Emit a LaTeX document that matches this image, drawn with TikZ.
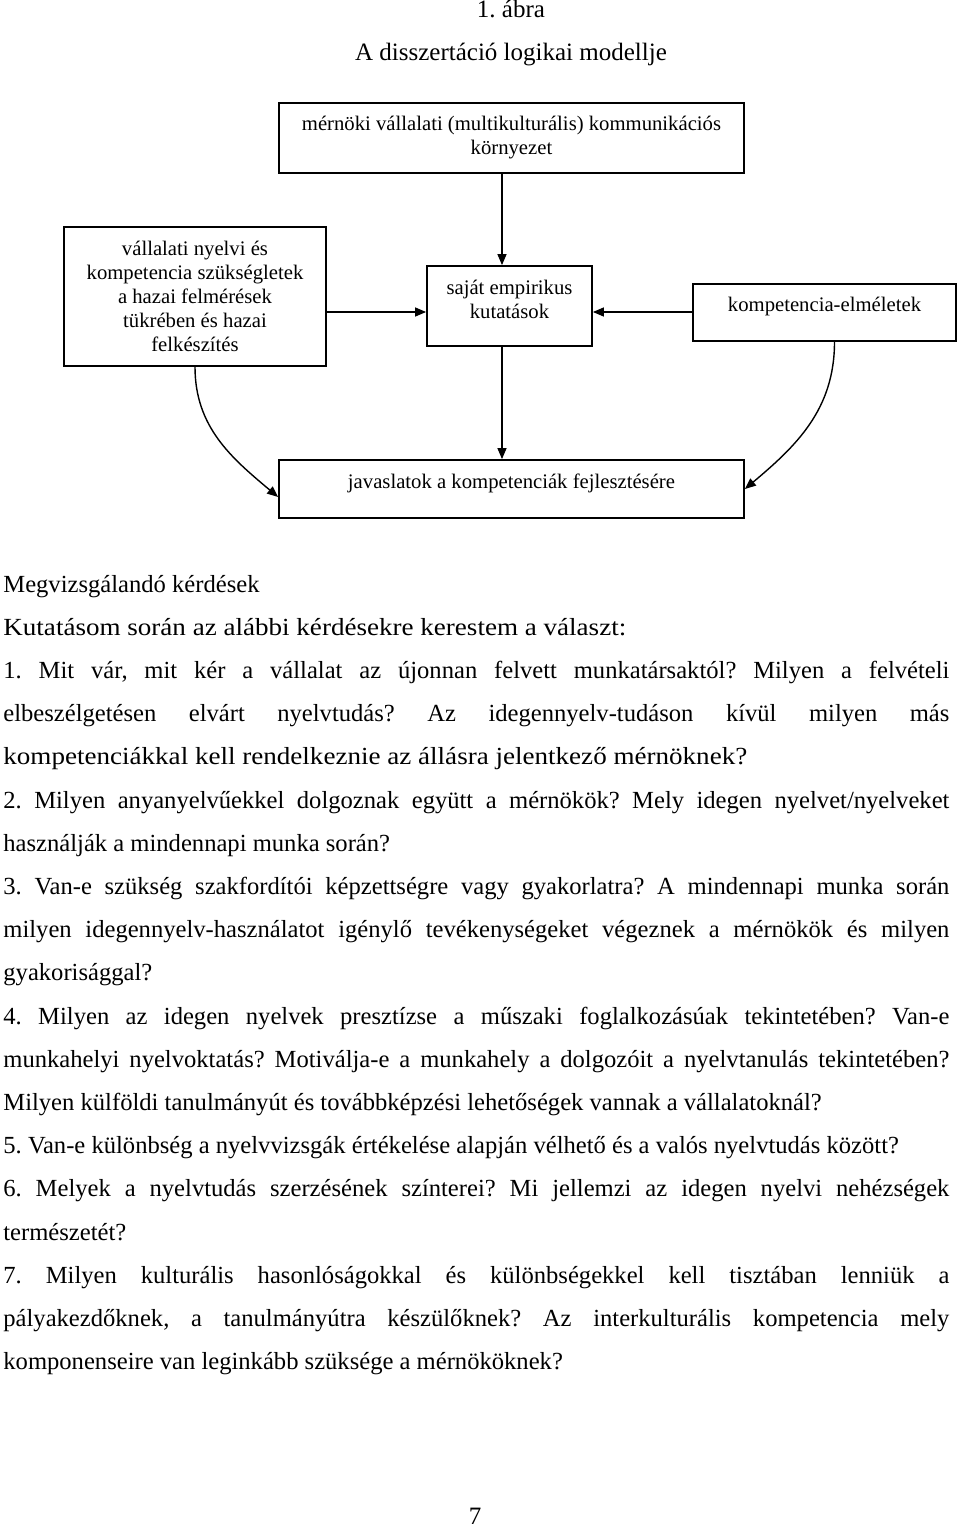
\documentclass[tikz,border=0pt]{standalone}
\usepackage{fontspec}
\setmainfont{Liberation Serif}
\newfontfamily\widefont[FakeStretch=1.1]{Liberation Serif}
\usetikzlibrary{arrows.meta}
\frenchspacing
\tolerance=10000
\hyphenpenalty=10000
\exhyphenpenalty=10000

\begin{document}
\begin{tikzpicture}[x=0.5pt, y=-0.5pt,
  box/.style={draw, line width=0.9pt, align=center, inner sep=0pt,
              font=\fontsize{10.35}{12}\selectfont},
  onebox/.style={box, text height=7pt, text depth=8pt},
  ttl/.style={font=\fontsize{12.5}{15}\selectfont, anchor=base},
  arr/.style={-{Triangle[length=5.5pt,width=4.5pt]}, line width=0.7pt},
]
\useasboundingbox (0,0) rectangle (960,1528);

% ---- Titles ----------------------------------------------------------------
\node[ttl] (fig) at (511,17) {1. ábra};
\node[ttl] (title) at (511,60) {A disszertáció logikai modellje};

% ---- Model boxes -----------------------------------------------------------
\node[box, minimum width=232.5pt, minimum height=35pt] (env) at (511.5,138)
  {mérnöki vállalati (multikulturális) kommunikációs\\környezet};
\node[box, minimum width=131pt, minimum height=69.5pt] (needs) at (195,296.5)
  {vállalati nyelvi és\\kompetencia szükségletek\\a hazai felmérések\\tükrében és hazai\\felkészítés};
\node[box, minimum width=82.5pt, minimum height=40pt] (emp) at (509.5,306)
  {saját empirikus\\kutatások\rule[-7pt]{0pt}{7pt}};
\node[onebox, minimum width=131.5pt, minimum height=28.5pt] (theory) at (824.5,312.5)
  {kompetencia-elméletek};
\node[onebox, minimum width=232.5pt, minimum height=29pt] (prop) at (511.5,489)
  {javaslatok a kompetenciák fejlesztésére};

% ---- Connectors ------------------------------------------------------------
\coordinate (spine) at (502,0);
\coordinate (midrow) at (0,312);
\draw[arr] (env.south -| spine) -- (emp.north -| spine);
\draw[arr] (needs.east |- midrow) -- (emp.west |- midrow);
\draw[arr] (theory.west |- midrow) -- (emp.east |- midrow);
\draw[arr] (emp.south -| spine) -- (prop.north -| spine);
\draw[arr] (needs.south) to[out=-90, in=140] ([yshift=-4pt]prop.west);
\draw[arr] ([xshift=5pt]theory.south) to[out=-90, in=40] (prop.east);

% ---- Research questions ----------------------------------------------------
\node[anchor=base west, text width=473pt, align=justify, inner sep=0pt,
      font=\fontsize{12.3}{21.6}\selectfont] (quest) at (3,592)
  {Megvizsgálandó kérdések\par
   {\widefont Kutatásom során az alábbi kérdésekre kerestem a választ:}\par
   1. Mit vár, mit kér a vállalat az újonnan felvett munkatársaktól? Milyen a felvételi\linebreak
   elbeszélgetésen elvárt nyelvtudás? Az idegennyelv-tudáson kívül milyen más\linebreak
   {\widefont kompetenciákkal kell rendelkeznie az állásra jelentkező mérnöknek?}\par
   2. Milyen anyanyelvűekkel dolgoznak együtt a mérnökök? Mely idegen nyelvet/nyelveket\linebreak
   használják a mindennapi munka során?\par
   3. Van-e szükség szakfordítói képzettségre vagy gyakorlatra? A mindennapi munka során\linebreak
   milyen idegennyelv-használatot igénylő tevékenységeket végeznek a mérnökök és milyen\linebreak
   gyakorisággal?\par
   4. Milyen az idegen nyelvek presztízse a műszaki foglalkozásúak tekintetében? Van-e\linebreak
   munkahelyi nyelvoktatás? Motiválja-e a munkahely a dolgozóit a nyelvtanulás tekintetében?\linebreak
   Milyen külföldi tanulmányút és továbbképzési lehetőségek vannak a vállalatoknál?\par
   5. Van-e különbség a nyelvvizsgák értékelése alapján vélhető és a valós nyelvtudás között?\par
   6. Melyek a nyelvtudás szerzésének színterei? Mi jellemzi az idegen nyelvi nehézségek\linebreak
   természetét?\par
   7. Milyen kulturális hasonlóságokkal és különbségekkel kell tisztában lenniük a\linebreak
   pályakezdőknek, a tanulmányútra készülőknek? Az interkulturális kompetencia mely\linebreak
   komponenseire van leginkább szüksége a mérnököknek?};

% ---- Page number -----------------------------------------------------------
\node[ttl] (page) at (475,1524) {7};

\end{tikzpicture}
\end{document}
